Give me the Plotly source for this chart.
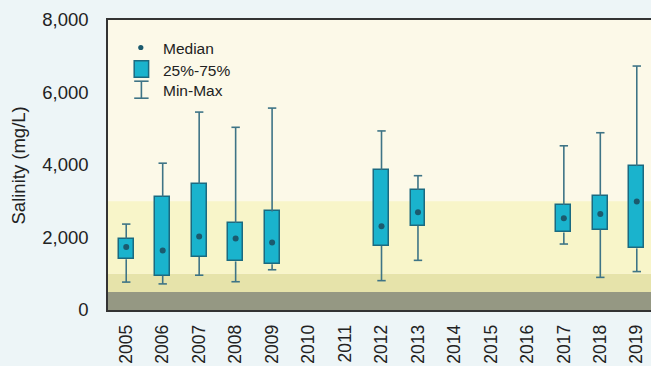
import plotly.graph_objects as go

# Annual salinity statistics (mg/L)
all_years = [str(y) for y in range(2005, 2020)]
years = ["2005", "2006", "2007", "2008", "2009", "2012", "2013", "2017", "2018", "2019"]
sal_min = [770, 720, 960, 780, 1110, 810, 1370, 1820, 900, 1060]
sal_q1 = [1400, 950, 1460, 1340, 1260, 1775, 2325, 2140, 2215, 1700]
sal_median = [1740, 1640, 2030, 1970, 1860, 2310, 2700, 2530, 2650, 2990]
sal_q3 = [1970, 3125, 3485, 2400, 2720, 3860, 3310, 2895, 3145, 3970]
sal_max = [2370, 4050, 5460, 5040, 5570, 4940, 3705, 4530, 4890, 6730]

# Background salinity bands (mg/L)
band_lo = [0, 500, 1000]
band_hi = [500, 1000, 3000]
band_colors = ["#959883", "#E6E3AA", "#F8F5C9"]

y_ticks = [0, 2000, 4000, 6000, 8000]

FONT = "Liberation Sans, Arial, sans-serif"
TEXT = "#222222"
BOX_FILL = "#1AB3CD"
BOX_EDGE = "#1B6A80"
WHISKER = "#3E7486"
MEDIAN = "#1B5A6E"

# plot area in pixels
L, R, T, B = 108, 651, 20, 310
W, H = 651, 366


def px(x):
    return (x - L) / (R - L)


def py(y):
    return (B - y) / (B - T)


fig = go.Figure()

# interquartile boxes
fig.add_trace(go.Bar(
    x=years,
    y=[q3 - q1 for q1, q3 in zip(sal_q1, sal_q3)],
    base=sal_q1,
    width=0.41,
    marker=dict(color=BOX_FILL, line=dict(color=BOX_EDGE, width=1.5)),
    showlegend=False,
    hoverinfo="skip",
))

# whiskers: min -> q1 and q3 -> max
wx, wy = [], []
for yr, lo, q1, q3, hi in zip(years, sal_min, sal_q1, sal_q3, sal_max):
    wx += [yr, yr, None, yr, yr, None]
    wy += [lo, q1, None, q3, hi, None]
fig.add_trace(go.Scatter(
    x=wx, y=wy, mode="lines",
    line=dict(color=WHISKER, width=1.6),
    showlegend=False, hoverinfo="skip",
))

# whisker caps
fig.add_trace(go.Scatter(
    x=years + years, y=sal_min + sal_max, mode="markers",
    marker=dict(symbol="line-ew", size=6, line=dict(color=WHISKER, width=1.6)),
    showlegend=False, hoverinfo="skip",
))

# medians
fig.add_trace(go.Scatter(
    x=years, y=sal_median, mode="markers",
    marker=dict(symbol="circle", size=6, color=MEDIAN),
    showlegend=False,
))

shapes = []
for lo, hi, c in zip(band_lo, band_hi, band_colors):
    shapes.append(dict(type="rect", xref="paper", yref="y", x0=0, x1=1, y0=lo, y1=hi,
                       fillcolor=c, line=dict(width=0), layer="below"))

# legend key
shapes.append(dict(type="circle", xref="paper", yref="paper",
                   xsizemode="pixel", ysizemode="pixel",
                   xanchor=px(140.8), yanchor=py(47.5),
                   x0=-2.6, x1=2.6, y0=-2.6, y1=2.6,
                   fillcolor=MEDIAN, line=dict(width=0)))
shapes.append(dict(type="rect", xref="paper", yref="paper",
                   x0=px(134.2), x1=px(148.6), y0=py(77.3), y1=py(60.8),
                   fillcolor=BOX_FILL, line=dict(color=BOX_EDGE, width=1.5)))
for seg in [((141.4, 81.2), (141.4, 98.2)), ((134.2, 81.2), (148.6, 81.2)),
            ((134.2, 98.2), (148.6, 98.2))]:
    (x0, y0), (x1, y1) = seg
    shapes.append(dict(type="line", xref="paper", yref="paper",
                       x0=px(x0), x1=px(x1), y0=py(y0), y1=py(y1),
                       line=dict(color=WHISKER, width=1.6)))

annotations = []
for label, yc in [("Median", 48.3), ("25%-75%", 70.0), ("Min-Max", 90.2)]:
    annotations.append(dict(text=label, xref="paper", yref="paper",
                            x=px(160.5), y=py(yc), xanchor="left", yanchor="middle",
                            showarrow=False, font=dict(family=FONT, size=15.5, color=TEXT)))

annotations.append(dict(text="Salinity (mg/L)", textangle=-90, xref="paper", yref="paper",
                        x=px(17.5), y=py(166), xanchor="center", yanchor="middle",
                        showarrow=False, font=dict(family=FONT, size=18.5, color=TEXT)))

fig.update_layout(
    width=W, height=H,
    margin=dict(l=L, r=W - R, t=T, b=H - B, pad=0, autoexpand=False),
    paper_bgcolor="#EDF5F7",
    plot_bgcolor="#FCF9E8",
    bargap=0,
    shapes=shapes,
    annotations=annotations,
    font=dict(family=FONT, size=18.5, color=TEXT),
    xaxis=dict(
        type="category", categoryorder="array", categoryarray=all_years,
        tickvals=all_years, range=[-0.5, 14.39], automargin=False,
        tickangle=-90, ticks="", ticklabelstandoff=6,
        showline=True, mirror=True, linecolor="#333333", linewidth=1.6,
        showgrid=False, zeroline=False,
        tickfont=dict(family=FONT, size=17.5, color=TEXT),
    ),
    yaxis=dict(
        range=[0, 8000], tickvals=y_ticks, tickformat=",", automargin=False,
        ticks="", ticklabelstandoff=14,
        showline=True, mirror=False, linecolor="#333333", linewidth=1.6,
        showgrid=False, zeroline=False,
        tickfont=dict(family=FONT, size=18.5, color=TEXT),
    ),
)

fig.write_html("out.html")
